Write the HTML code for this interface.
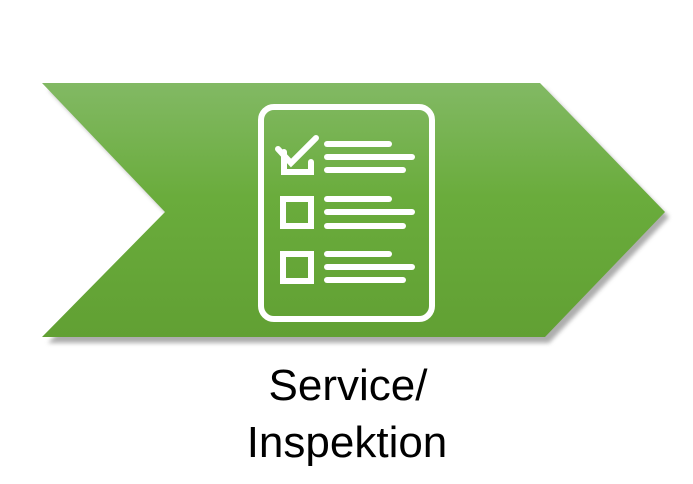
<!DOCTYPE html>
<html><head><style>
html,body{margin:0;padding:0;background:#fff;width:693px;height:484px;overflow:hidden}
</style></head><body>
<svg width="693" height="484" viewBox="0 0 693 484" xmlns="http://www.w3.org/2000/svg">
<defs>
<linearGradient id="g" x1="0" y1="0" x2="0" y2="1">
<stop offset="0" stop-color="#82b964"/>
<stop offset="0.45" stop-color="#6aac3c"/>
<stop offset="1" stop-color="#61a033"/>
</linearGradient>
<filter id="b"><feGaussianBlur stdDeviation="2"/></filter>
</defs>
<polygon points="48,89 545,89 669,217 549,343 48,343 170,217" fill="#777" opacity="0.6" filter="url(#b)"/>
<polygon points="42,83 540,83 665,212 545,337 42,337 165,212" fill="url(#g)"/>
<rect x="261" y="107" width="171" height="212" rx="13" fill="none" stroke="#fff" stroke-width="6"/>
<g stroke="#fff" stroke-width="6" stroke-linecap="round" fill="none">
<path d="M284 152 V172 H311 V162"/>
<path d="M278 149 L291 163 L316 138"/>
<rect x="283" y="199" width="28" height="27" stroke-linecap="butt"/>
<rect x="283" y="254" width="28" height="27" stroke-linecap="butt"/>
<line x1="327" y1="144" x2="389" y2="144"/>
<line x1="327" y1="157" x2="412" y2="157"/>
<line x1="327" y1="170" x2="403" y2="170"/>
<line x1="327" y1="199" x2="389" y2="199"/>
<line x1="327" y1="212" x2="412" y2="212"/>
<line x1="327" y1="226" x2="403" y2="226"/>
<line x1="327" y1="254" x2="389" y2="254"/>
<line x1="327" y1="267" x2="412" y2="267"/>
<line x1="327" y1="280" x2="403" y2="280"/>
</g>
<text x="348" y="400" text-anchor="middle" font-family="Liberation Sans, sans-serif" font-size="44" fill="#000">Service/</text>
<text x="347" y="457" text-anchor="middle" font-family="Liberation Sans, sans-serif" font-size="44" fill="#000">Inspektion</text>
</svg>
</body></html>
